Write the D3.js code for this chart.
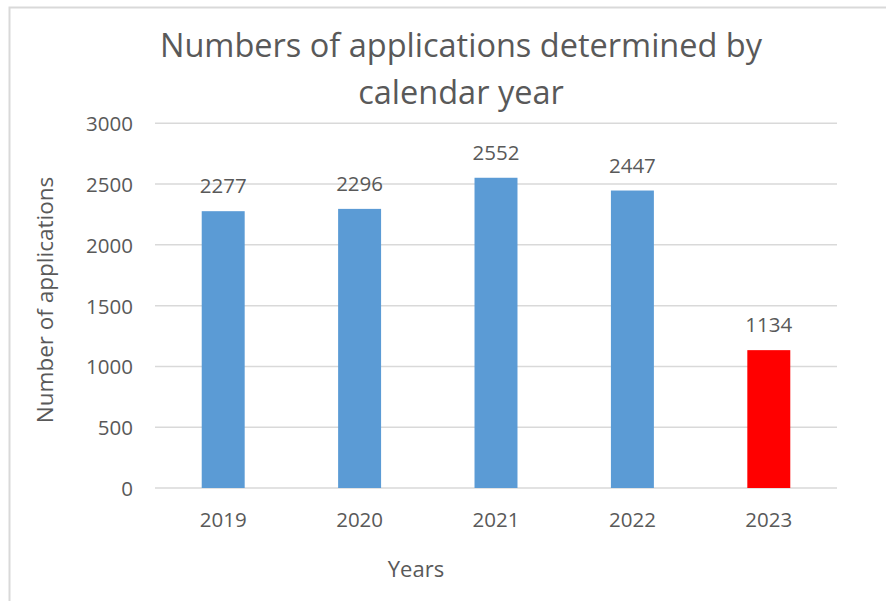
<!DOCTYPE html>
<html>
<head>
<meta charset="utf-8">
<script src="https://cdn.jsdelivr.net/npm/d3@7"></script>
<style>
    body { margin: 0; background: #fff; }
    text { font-family: "Open Sans", sans-serif; fill: #595959; }
</style>
</head>
<body>
<div class="js-chart"></div>
<script>
'use strict';

const years = ["2019", "2020", "2021", "2022", "2023"];
const applications = [2277, 2296, 2552, 2447, 1134];
const barColors = ["#5B9BD5", "#5B9BD5", "#5B9BD5", "#5B9BD5", "#FF0000"];
const yTicks = [0, 500, 1000, 1500, 2000, 2500, 3000];

const svgWidth = 886;
const svgHeight = 601;

const plotLeft = 155;
const plotRight = 837;
const plotTop = 123.3;
const plotBottom = 488;

let svg = d3.select(".js-chart")
            .append("svg")
            .attr("width", svgWidth)
            .attr("height", svgHeight);

// chart border (top and left edges are visible, the rest is cropped)
svg.append("path")
    .attr("d", "M9.5," + svgHeight + "V7.5H" + svgWidth)
    .attr("fill", "none")
    .attr("stroke", "#D9D9D9")
    .attr("stroke-width", 2);

let xScale = d3.scaleBand()
                .domain(years)
                .range([plotLeft, plotRight])
                .paddingInner(0.685)
                .paddingOuter(0.3425);

let yScale = d3.scaleLinear()
                .domain([0, 3000])
                .range([plotBottom, plotTop]);

// gridlines
svg.append("g")
    .selectAll("line")
    .data(yTicks)
    .enter()
    .append("line")
    .attr("x1", plotLeft)
    .attr("x2", plotRight)
    .attr("y1", d => yScale(d))
    .attr("y2", d => yScale(d))
    .attr("stroke", "#D9D9D9")
    .attr("stroke-width", 1.5);

// y axis labels
let yAxis = svg.append("g")
    .attr("transform", "translate(" + (plotLeft - 22) + ",0)")
    .call(d3.axisLeft(yScale).tickValues(yTicks).tickFormat(d3.format("d")).tickSize(0).tickPadding(0));
yAxis.select(".domain").remove();
yAxis.selectAll("text")
    .attr("font-size", "20.5px")
    .attr("font-family", null)
    .attr("dy", "0.36em");

// x axis labels
let xAxis = svg.append("g")
    .attr("transform", "translate(0," + plotBottom + ")")
    .call(d3.axisBottom(xScale).tickSize(0).tickPadding(0));
xAxis.select(".domain").remove();
xAxis.selectAll("text")
    .attr("font-size", "20.5px")
    .attr("font-family", null)
    .attr("dy", null)
    .attr("y", 39);

// bars
svg.selectAll("rect.bar")
    .data(applications)
    .enter()
    .append("rect")
    .classed("bar", true)
    .attr("x", (d, i) => xScale(years[i]))
    .attr("y", d => yScale(d))
    .attr("width", xScale.bandwidth())
    .attr("height", d => plotBottom - yScale(d))
    .attr("fill", (d, i) => barColors[i]);

// data labels
svg.selectAll("text.value")
    .data(applications)
    .enter()
    .append("text")
    .classed("value", true)
    .text(d => d)
    .attr("text-anchor", "middle")
    .attr("font-size", "20.5px")
    .attr("x", (d, i) => xScale(years[i]) + xScale.bandwidth() / 2)
    .attr("y", d => yScale(d) - 18);

// title
const titleLines = ["Numbers of applications determined by", "calendar year"];
svg.selectAll("text.title")
    .data(titleLines)
    .enter()
    .append("text")
    .classed("title", true)
    .text(d => d)
    .attr("text-anchor", "middle")
    .attr("font-size", "32.5px")
    .attr("x", 461)
    .attr("y", (d, i) => 57 + i * 47);

// axis titles
svg.append("text")
    .text("Years")
    .attr("text-anchor", "middle")
    .attr("font-size", "22px")
    .attr("x", 416)
    .attr("y", 577);

svg.append("text")
    .text("Number of applications")
    .attr("text-anchor", "middle")
    .attr("font-size", "22.5px")
    .attr("transform", "translate(53,300) rotate(-90)");
</script>
</body>
</html>
